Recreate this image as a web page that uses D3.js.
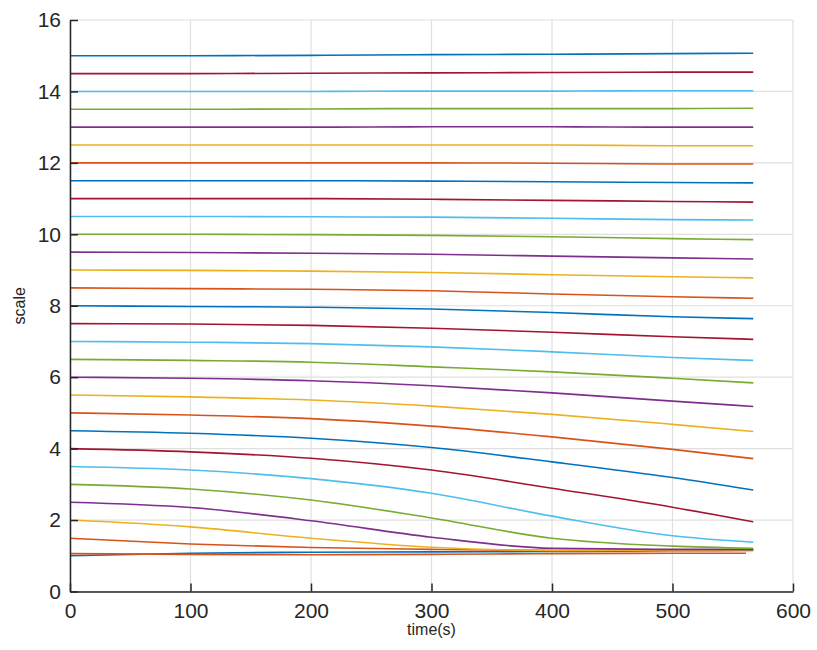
<!DOCTYPE html>
<html>
<head>
<meta charset="utf-8">
<script src="https://cdn.jsdelivr.net/npm/d3@7"></script>
<style>
  html, body { margin: 0; padding: 0; background: #fff; }
  svg { display: block; font-family: "Liberation Sans", Arial, Helvetica, sans-serif; }
</style>
</head>
<body>
<svg id="chart" width="817" height="650"></svg>
<script>
// ---- data ----
const times = [0, 100, 200, 300, 400, 500, 567];
const seriesValues = [
  [1.00, 1.07, 1.10, 1.11, 1.12, 1.14, 1.15],
  [1.49, 1.33, 1.23, 1.18, 1.15, 1.16, 1.17],
  [2.00, 1.81, 1.49, 1.24, 1.15, 1.16, 1.17],
  [2.50, 2.35, 1.98, 1.52, 1.21, 1.18, 1.18],
  [3.00, 2.87, 2.56, 2.06, 1.49, 1.27, 1.21],
  [3.50, 3.40, 3.16, 2.75, 2.11, 1.56, 1.38],
  [4.00, 3.91, 3.73, 3.40, 2.89, 2.36, 1.95],
  [4.50, 4.43, 4.29, 4.03, 3.63, 3.19, 2.84],
  [5.00, 4.94, 4.84, 4.63, 4.33, 3.98, 3.72],
  [5.50, 5.45, 5.36, 5.19, 4.96, 4.68, 4.48],
  [6.00, 5.97, 5.90, 5.76, 5.56, 5.33, 5.18],
  [6.50, 6.47, 6.42, 6.29, 6.15, 5.97, 5.84],
  [7.00, 6.98, 6.94, 6.85, 6.71, 6.55, 6.47],
  [7.50, 7.49, 7.45, 7.37, 7.26, 7.13, 7.06],
  [8.00, 7.98, 7.96, 7.91, 7.81, 7.69, 7.64],
  [8.50, 8.48, 8.46, 8.42, 8.33, 8.25, 8.21],
  [9.00, 8.99, 8.97, 8.93, 8.87, 8.81, 8.78],
  [9.50, 9.49, 9.47, 9.44, 9.39, 9.34, 9.31],
  [10.00, 10.00, 9.99, 9.97, 9.93, 9.88, 9.85],
  [10.50, 10.50, 10.49, 10.48, 10.45, 10.41, 10.40],
  [11.00, 11.00, 11.00, 10.98, 10.95, 10.92, 10.90],
  [11.50, 11.50, 11.50, 11.49, 11.47, 11.45, 11.44],
  [12.00, 12.00, 12.00, 12.00, 11.99, 11.97, 11.97],
  [12.50, 12.50, 12.50, 12.50, 12.50, 12.48, 12.48],
  [13.00, 13.00, 13.00, 13.01, 13.01, 13.00, 13.00],
  [13.50, 13.50, 13.51, 13.52, 13.52, 13.52, 13.53],
  [14.00, 14.00, 14.00, 14.01, 14.01, 14.02, 14.02],
  [14.50, 14.50, 14.51, 14.52, 14.53, 14.54, 14.54],
  [15.00, 15.00, 15.01, 15.03, 15.04, 15.06, 15.07]
];
const extraTimes = [0, 100, 200, 300, 400, 500, 561];
const extraValues = [1.06, 1.04, 1.03, 1.04, 1.06, 1.07, 1.07];
const xTicks = [0, 100, 200, 300, 400, 500, 600];
const yTicks = [0, 2, 4, 6, 8, 10, 12, 14, 16];
const colors = ["#0072BD", "#D95319", "#EDB120", "#7E2F8E", "#77AC30", "#4DBEEE", "#A2142F"];
const xLabel = "time(s)";
const yLabel = "scale";

// ---- drawing ----
const svg = d3.select("#chart");
const mLeft = 70, mRight = 793, mTop = 20, mBottom = 591.5;
const x = d3.scaleLinear().domain([0, 600]).range([mLeft, mRight]);
const y = d3.scaleLinear().domain([0, 16]).range([mBottom, mTop]);

// grid
const grid = svg.append("g");
grid.selectAll("line.gx").data(xTicks).join("line").attr("class", "gx")
  .attr("x1", d => x(d)).attr("x2", d => x(d))
  .attr("y1", mTop).attr("y2", mBottom)
  .attr("stroke", "#e0e0e0").attr("stroke-width", 1.2);
grid.selectAll("line.gy").data(yTicks).join("line").attr("class", "gy")
  .attr("y1", d => y(d)).attr("y2", d => y(d))
  .attr("x1", mLeft).attr("x2", mRight)
  .attr("stroke", "#e0e0e0").attr("stroke-width", 1.2);

// series
const line = d3.line().x(d => x(d[0])).y(d => y(d[1])).curve(d3.curveMonotoneX);
const all = seriesValues.map((vals, i) => ({ pts: times.map((t, j) => [t, vals[j]]), c: colors[i % 7] }));
all.push({ pts: extraTimes.map((t, j) => [t, extraValues[j]]), c: colors[seriesValues.length % 7] });
svg.append("g").selectAll("path").data(all).join("path")
  .attr("d", d => line(d.pts))
  .attr("fill", "none")
  .attr("stroke", d => d.c)
  .attr("stroke-width", 1.6);

// axes
const xAxis = d3.axisBottom(x).tickValues(xTicks).tickSizeInner(-8).tickSizeOuter(0).tickPadding(20);
const yAxis = d3.axisLeft(y).tickValues(yTicks).tickSizeInner(-8).tickSizeOuter(0).tickPadding(16);
const gx = svg.append("g").attr("transform", `translate(0,${mBottom})`).call(xAxis);
const gy = svg.append("g").attr("transform", `translate(${mLeft},0)`).call(yAxis);
[gx, gy].forEach(g => {
  g.select(".domain").attr("stroke", "#262626").attr("stroke-width", 1.5);
  g.selectAll(".tick line").attr("stroke", "#262626").attr("stroke-width", 1.5);
  g.selectAll(".tick text").attr("fill", "#262626").attr("font-size", 21)
    .attr("font-family", "Liberation Sans, Arial, sans-serif");
});
gx.selectAll(".tick text").attr("dy", "0.71em").attr("y", 12);
gy.selectAll(".tick text").attr("x", -9);

// labels
svg.append("text").attr("x", (mLeft + mRight) / 2).attr("y", 635)
  .attr("text-anchor", "middle").attr("font-size", 16).attr("fill", "#262626").text(xLabel);
svg.append("text").attr("transform", `translate(25,${(mTop + mBottom) / 2}) rotate(-90)`)
  .attr("text-anchor", "middle").attr("font-size", 16).attr("fill", "#262626").text(yLabel);
</script>
</body>
</html>
